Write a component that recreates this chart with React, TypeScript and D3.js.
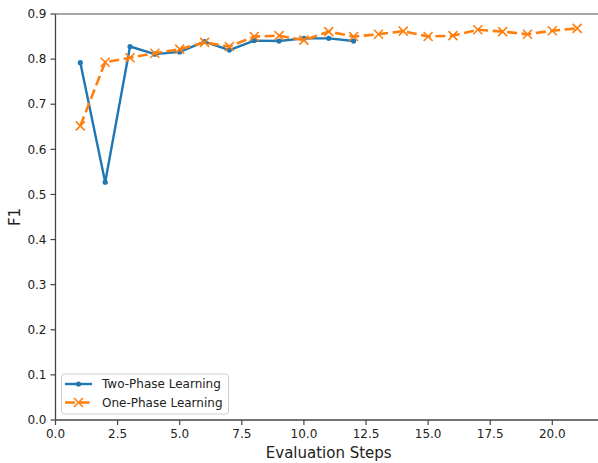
import React from "react";
import * as d3 from "d3";

const twoPhaseSteps = [1, 2, 3, 4, 5, 6, 7, 8, 9, 10, 11, 12];
const twoPhaseF1 = [0.792, 0.527, 0.828, 0.811, 0.816, 0.839, 0.82, 0.841, 0.84, 0.846, 0.846, 0.84];
const onePhaseSteps = [1, 2, 3, 4, 5, 6, 7, 8, 9, 10, 11, 12, 13, 14, 15, 16, 17, 18, 19, 20, 21];
const onePhaseF1 = [0.652, 0.793, 0.803, 0.813, 0.822, 0.837, 0.828, 0.85, 0.852, 0.842, 0.861, 0.85, 0.855, 0.862, 0.85, 0.852, 0.865, 0.861, 0.855, 0.863, 0.868];
const xTicks = [0, 2.5, 5, 7.5, 10, 12.5, 15, 17.5, 20];
const yTicks = [0, 0.1, 0.2, 0.3, 0.4, 0.5, 0.6, 0.7, 0.8, 0.9];
const seriesNames = ["Two-Phase Learning", "One-Phase Learning"];

const W = 598;
const H = 463;
const left = 55.5;
const top = 14;
const bottom = 420;
const right = 602;

export default function App() {
  const x = d3.scaleLinear().domain([0, 22]).range([left, right]);
  const y = d3.scaleLinear().domain([0, 0.9]).range([bottom, top]);
  const line = d3
    .line<[number, number]>()
    .x((d) => x(d[0]))
    .y((d) => y(d[1]));
  const two: [number, number][] = twoPhaseSteps.map((s, i) => [s, twoPhaseF1[i]]);
  const one: [number, number][] = onePhaseSteps.map((s, i) => [s, onePhaseF1[i]]);
  const blue = "#1f77b4";
  const orange = "#ff7f0e";
  const font = "DejaVu Sans, sans-serif";
  const axisCol = "#444";
  const textCol = "#222";
  const xMark = (cx: number, cy: number, k: string | number) => (
    <g key={k} stroke={orange} strokeWidth={1.6}>
      <line x1={cx - 4.5} y1={cy - 4.5} x2={cx + 4.5} y2={cy + 4.5} />
      <line x1={cx - 4.5} y1={cy + 4.5} x2={cx + 4.5} y2={cy - 4.5} />
    </g>
  );
  return (
    <svg width={W} height={H} style={{ position: "absolute", left: 0, top: 0, background: "#fff" }}>
      <rect x={0} y={0} width={W} height={H} fill="#fff" />
      {/* lines */}
      <path d={line(two) || ""} fill="none" stroke={blue} strokeWidth={2.4} strokeLinejoin="round" />
      {two.map((d, i) => (
        <circle key={i} cx={x(d[0])} cy={y(d[1])} r={2.6} fill={blue} />
      ))}
      <path d={line(one) || ""} fill="none" stroke={orange} strokeWidth={2.6} strokeDasharray="10,4.5" />
      {one.map((d, i) => xMark(x(d[0]), y(d[1]), i))}
      {/* spines */}
      <line x1={left} y1={top} x2={left} y2={bottom} stroke={axisCol} strokeWidth={1.3} />
      <line x1={left} y1={bottom} x2={right} y2={bottom} stroke={axisCol} strokeWidth={1.3} />
      <line x1={left} y1={top} x2={right} y2={top} stroke="#888" strokeWidth={1.3} />
      {/* y ticks */}
      {yTicks.map((t) => (
        <g key={t}>
          <line x1={left - 5} x2={left} y1={y(t)} y2={y(t)} stroke={axisCol} strokeWidth={1.2} />
          <text x={left - 9} y={y(t)} dy="0.35em" textAnchor="end" fontSize={12} fontFamily={font} fill={textCol}>
            {t.toFixed(1)}
          </text>
        </g>
      ))}
      {/* x ticks */}
      {xTicks.map((t) => (
        <g key={t}>
          <line x1={x(t)} x2={x(t)} y1={bottom} y2={bottom + 5} stroke={axisCol} strokeWidth={1.2} />
          <text x={x(t)} y={bottom + 18} textAnchor="middle" fontSize={12} fontFamily={font} fill={textCol}>
            {t.toFixed(1)}
          </text>
        </g>
      ))}
      <text x={(left + right) / 2} y={458} textAnchor="middle" fontSize={15} fontFamily={font} fill={textCol}>
        Evaluation Steps
      </text>
      <text
        transform={`translate(20, ${(top + bottom) / 2}) rotate(-90)`}
        textAnchor="middle"
        fontSize={15}
        fontFamily={font}
        fill={textCol}
      >
        F1
      </text>
      {/* legend */}
      <rect x={61.5} y={374} width={167} height={40} rx={3} fill="#fff" fillOpacity={0.8} stroke="#ccc" strokeWidth={1} />
      <line x1={65} x2={92} y1={384} y2={384} stroke={blue} strokeWidth={2.4} />
      <circle cx={78.5} cy={384} r={2.6} fill={blue} />
      <text x={102} y={384} dy="0.35em" fontSize={12} fontFamily={font} fill={textCol}>
        {seriesNames[0]}
      </text>
      <line x1={65} x2={92} y1={402.5} y2={402.5} stroke={orange} strokeWidth={2.6} strokeDasharray="10,4.5" />
      {xMark(78.5, 402.5, "lg")}
      <text x={102} y={402.5} dy="0.35em" fontSize={12} fontFamily={font} fill={textCol}>
        {seriesNames[1]}
      </text>
    </svg>
  );
}
